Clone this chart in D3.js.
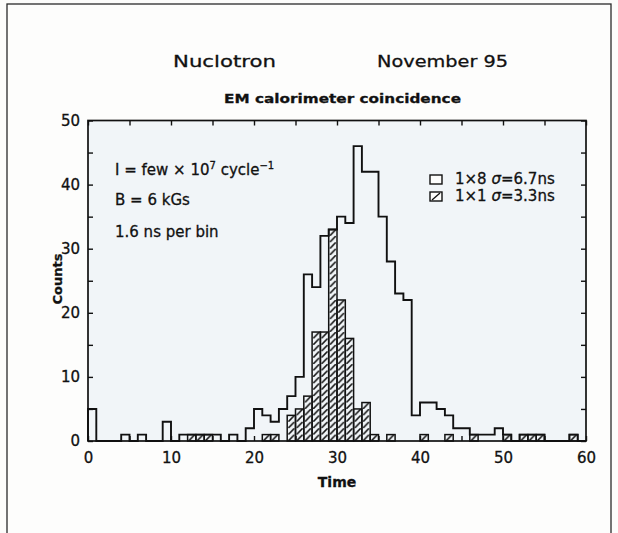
<!DOCTYPE html>
<html>
<head>
<meta charset="utf-8">
<script src="https://cdn.jsdelivr.net/npm/d3@7/dist/d3.min.js"></script>
<style>
  html, body { margin: 0; padding: 0; background: #fcfcfb; }
  svg { display: block; font-family: "DejaVu Sans", sans-serif; }
  svg text { stroke: #111; stroke-width: 0.3px; }
</style>
</head>
<body>
<svg id="chart" width="618" height="533"></svg>
<script>
// Time bins (left edge of each 1-unit bin, 1.6 ns per bin)
const timeBins = [
  0, 1, 2, 3, 4, 5, 6, 7, 8, 9,
  10, 11, 12, 13, 14, 15, 16, 17, 18, 19,
  20, 21, 22, 23, 24, 25, 26, 27, 28, 29,
  30, 31, 32, 33, 34, 35, 36, 37, 38, 39,
  40, 41, 42, 43, 44, 45, 46, 47, 48, 49,
  50, 51, 52, 53, 54, 55, 56, 57, 58, 59
];

// 1x8 module coincidence counts (open histogram)
const counts1x8 = [
  5, 0, 0, 0, 1, 0, 1, 0, 0, 3,
  0, 1, 1, 1, 1, 1, 0, 1, 0, 2,
  5, 4, 3, 5, 7, 10, 26, 24, 32, 33,
  35, 34, 46, 42, 42, 35, 28, 23, 22, 4,
  6, 6, 5, 4, 2, 2, 1, 1, 1, 2,
  1, 0, 1, 1, 1, 0, 0, 0, 1, 0
];

// 1x1 module coincidence counts (hatched histogram)
const counts1x1 = [
  0, 0, 0, 0, 0, 0, 0, 0, 0, 0,
  0, 0, 1, 1, 1, 0, 0, 0, 0, 0,
  0, 1, 1, 0, 4, 5, 7, 17, 17, 33,
  22, 16, 5, 6, 1, 0, 1, 0, 0, 0,
  1, 0, 0, 1, 0, 0, 1, 0, 0, 0,
  1, 0, 1, 1, 1, 0, 0, 0, 1, 0
];

const xTickLabels = [0, 10, 20, 30, 40, 50, 60];
const xMinorTicks = [0, 5, 10, 15, 20, 25, 30, 35, 40, 45, 50, 55, 60];
const yTickLabels = [0, 10, 20, 30, 40, 50];
const yMinorTicks = [0, 5, 10, 15, 20, 25, 30, 35, 40, 45, 50];

const titleLeft = "Nuclotron";
const titleRight = "November 95";
const subtitle = "EM calorimeter coincidence";
const xLabel = "Time";
const yLabel = "Counts";
const legendLabels = ["1\u00d78 ", "1\u00d71 "];
const legendSigma = ["=6.7ns", "=3.3ns"];

const svg = d3.select("#chart");

const x = d3.scaleLinear().domain([0, 60]).range([88, 586]);
const y = d3.scaleLinear().domain([0, 50]).range([441, 120.5]);

// outer figure frame
svg.append("rect")
  .attr("x", 7).attr("y", 4).attr("width", 604).attr("height", 620)
  .attr("fill", "#fdfdfc").attr("stroke", "#2a2a2a").attr("stroke-width", 1.3);

// plot background
svg.append("rect")
  .attr("x", x(0)).attr("y", y(50))
  .attr("width", x(60) - x(0)).attr("height", y(0) - y(50))
  .attr("fill", "#f1f5f8");

// hatch pattern: one slanted stroke per bin-width x one-count cell
const bw = x(1) - x(0);
const bh = y(0) - y(1);
const defs = svg.append("defs");
defs.append("pattern")
  .attr("id", "hatch")
  .attr("patternUnits", "userSpaceOnUse")
  .attr("x", x(0)).attr("y", y(0))
  .attr("width", bw).attr("height", bh)
  .append("path")
  .attr("d", `M${1.2},${bh - 0.2} L${bw - 1.2},${0.2}`)
  .attr("stroke", "#111").attr("stroke-width", 1.6).attr("fill", "none");

// hatched 1x1 bars
svg.append("g")
  .selectAll("rect")
  .data(timeBins.map((t, i) => ({ t, v: counts1x1[i] })).filter(d => d.v > 0))
  .join("rect")
  .attr("x", d => x(d.t))
  .attr("y", d => y(d.v))
  .attr("width", d => x(d.t + 1) - x(d.t))
  .attr("height", d => y(0) - y(d.v))
  .attr("fill", "url(#hatch)")
  .attr("stroke", "#111")
  .attr("stroke-width", 1.5);

// open 1x8 histogram as a step outline
const stepPts = [{ t: timeBins[0], v: 0 }]
  .concat(timeBins.map((t, i) => ({ t, v: counts1x8[i] })))
  .concat([{ t: timeBins[timeBins.length - 1] + 1, v: 0 }]);
svg.append("path")
  .datum(stepPts)
  .attr("d", d3.line().x(d => x(d.t)).y(d => y(d.v)).curve(d3.curveStepAfter))
  .attr("fill", "none")
  .attr("stroke", "#111")
  .attr("stroke-width", 1.9)
  .attr("stroke-linejoin", "miter");

// axes: ticks point inward on all four sides
const tickStyle = g => {
  g.select(".domain").remove();
  g.selectAll(".tick line").attr("stroke", "#111").attr("stroke-width", 1.4);
  g.selectAll(".tick text")
    .attr("fill", "#111")
    .style("font-family", "'DejaVu Sans', sans-serif")
    .style("font-size", "15px");
};

svg.append("g")
  .attr("transform", `translate(0,${y(0)})`)
  .call(d3.axisBottom(x).tickValues(xMinorTicks).tickSize(-5).tickPadding(11)
    .tickFormat(d => xTickLabels.includes(d) ? d : ""))
  .call(tickStyle);

svg.append("g")
  .attr("transform", `translate(0,${y(50)})`)
  .call(d3.axisTop(x).tickValues(xMinorTicks).tickSize(-5).tickFormat(""))
  .call(tickStyle);

svg.append("g")
  .attr("transform", `translate(${x(0)},0)`)
  .call(d3.axisLeft(y).tickValues(yMinorTicks).tickSize(-5).tickPadding(8)
    .tickFormat(d => yTickLabels.includes(d) ? d : ""))
  .call(tickStyle);

svg.append("g")
  .attr("transform", `translate(${x(60)},0)`)
  .call(d3.axisRight(y).tickValues(yMinorTicks).tickSize(-5).tickFormat(""))
  .call(tickStyle);

// plot frame
svg.append("rect")
  .attr("x", x(0)).attr("y", y(50))
  .attr("width", x(60) - x(0)).attr("height", y(0) - y(50))
  .attr("fill", "none").attr("stroke", "#111").attr("stroke-width", 1.7);

// titles
svg.append("text")
  .attr("x", 173).attr("y", 67)
  .attr("textLength", 103).attr("lengthAdjust", "spacingAndGlyphs")
  .style("font-size", "16.5px").attr("fill", "#111")
  .text(titleLeft);
svg.append("text")
  .attr("x", 377).attr("y", 67)
  .attr("textLength", 131).attr("lengthAdjust", "spacingAndGlyphs")
  .style("font-size", "16.5px").attr("fill", "#111")
  .text(titleRight);
svg.append("text")
  .attr("x", 224).attr("y", 103)
  .attr("textLength", 237).attr("lengthAdjust", "spacingAndGlyphs")
  .style("font-size", "13px").style("font-weight", "bold").attr("fill", "#111")
  .text(subtitle);

// axis titles
svg.append("text")
  .attr("x", x(30)).attr("y", 487)
  .attr("text-anchor", "middle")
  .style("font-size", "14px").style("font-weight", "bold").attr("fill", "#111")
  .text(xLabel);
svg.append("text")
  .attr("transform", `translate(57,279) rotate(-90)`)
  .attr("text-anchor", "middle").attr("dominant-baseline", "central")
  .style("font-size", "13px").style("font-weight", "bold").attr("fill", "#111")
  .text(yLabel);

// run conditions
const note1 = svg.append("text")
  .attr("x", 115).attr("y", 175)
  .style("font-size", "15px").attr("fill", "#111");
note1.append("tspan").text("I = few \u00d7 10");
note1.append("tspan").attr("dy", -6).style("font-size", "10px").text("7");
note1.append("tspan").attr("dy", 6).text(" cycle");
note1.append("tspan").attr("dy", -6).style("font-size", "10px").text("\u22121");

svg.append("text")
  .attr("x", 115).attr("y", 205)
  .style("font-size", "15px").attr("fill", "#111")
  .text("B = 6 kGs");
svg.append("text")
  .attr("x", 115).attr("y", 237)
  .style("font-size", "15px").attr("fill", "#111")
  .text("1.6 ns per bin");

// legend
const legY = [175, 192];
svg.append("rect")
  .attr("x", 430).attr("y", legY[0]).attr("width", 12).attr("height", 9)
  .attr("fill", "#fdfdfc").attr("stroke", "#111").attr("stroke-width", 1.4);
svg.append("rect")
  .attr("x", 430).attr("y", legY[1]).attr("width", 12).attr("height", 9)
  .attr("fill", "#fdfdfc").attr("stroke", "#111").attr("stroke-width", 1.4);
svg.append("path")
  .attr("d", `M432,${legY[1] + 8} L440,${legY[1] + 1}`)
  .attr("stroke", "#111").attr("stroke-width", 1.3);

legendLabels.forEach((lab, i) => {
  const t = svg.append("text")
    .attr("x", 455).attr("y", legY[i] + 9)
    .style("font-size", "15px").attr("fill", "#111");
  t.append("tspan").text(lab);
  t.append("tspan").style("font-style", "italic").text("\u03c3");
  t.append("tspan").text(legendSigma[i]);
});
</script>
</body>
</html>
